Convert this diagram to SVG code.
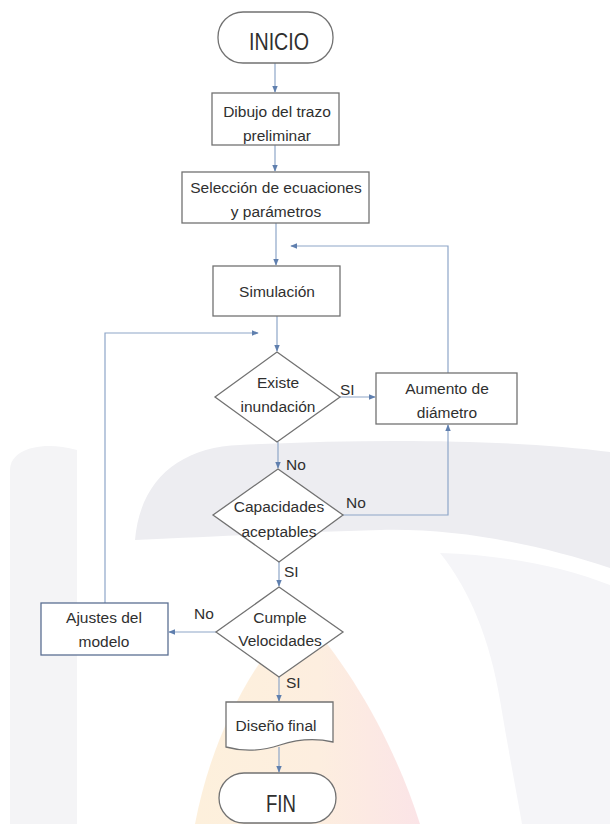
<svg xmlns="http://www.w3.org/2000/svg" width="610" height="824" viewBox="0 0 610 824">
  <defs>
    <style>
      .shape { fill: #ffffff; stroke: #727272; stroke-width: 1.3; }
      .shape-blue { fill: #ffffff; stroke: #5b6f92; stroke-width: 1.3; }
      .link { fill: none; stroke: #8ea6c8; stroke-width: 1.2; }
      .txt { font-family: "Liberation Sans", Arial, sans-serif; font-size: 15.5px; fill: #2f2f2f; text-anchor: middle; }
      .lbl { font-family: "Liberation Sans", Arial, sans-serif; font-size: 15.5px; fill: #2f2f2f; }
      .big { font-family: "Liberation Sans", Arial, sans-serif; font-size: 24px; fill: #2f2f2f; text-anchor: middle; }
    </style>
    <marker id="arrow" viewBox="0 0 10 10" refX="9" refY="5" markerWidth="6" markerHeight="6" orient="auto-start-reverse">
      <path d="M0,1 L10,5 L0,9 Z" fill="#5f7fae"/>
    </marker>
    <linearGradient id="flame" x1="0" y1="0" x2="1" y2="0">
      <stop offset="0" stop-color="#fdf0dc"/>
      <stop offset="0.55" stop-color="#fdeedf"/>
      <stop offset="1" stop-color="#fbe4e7"/>
    </linearGradient>
  </defs>

  <!-- page background with faint emblem -->
  <rect x="0" y="0" width="610" height="824" fill="#ffffff"/>
  <g id="emblem">
    <path d="M10,824 V470 C10,450 40,440 77,450 V824 Z" fill="#f4f4f6"/>
    <path d="M135,540 C140,480 180,447 240,445 C380,438 520,440 610,452 V568 C540,545 460,528 380,530 C300,532 230,536 135,540 Z" fill="#ededf1"/>
    <path d="M440,553 C470,590 490,640 500,700 C510,760 518,800 522,824 H610 V585 C560,565 500,555 440,553 Z" fill="#f5f5f8"/>
    <path d="M195,824 C210,745 245,670 300,612 C350,665 395,745 420,824 Z" fill="url(#flame)"/>
  </g>

  <!-- connectors -->
  <g id="connectors">
    <path class="link" d="M275,63 V92" marker-end="url(#arrow)"/>
    <path class="link" d="M275,145 V171" marker-end="url(#arrow)"/>
    <path class="link" d="M276,223 V265" marker-end="url(#arrow)"/>
    <path class="link" d="M277,316 V351" marker-end="url(#arrow)"/>
    <path class="link" d="M340,397 H375" marker-end="url(#arrow)"/>
    <path class="link" d="M448,373 V246 H291" marker-end="url(#arrow)"/>
    <path class="link" d="M278,442 V468" marker-end="url(#arrow)"/>
    <path class="link" d="M343,515 H448 V425" marker-end="url(#arrow)"/>
    <path class="link" d="M279,562 V586" marker-end="url(#arrow)"/>
    <path class="link" d="M216,632 H169" marker-end="url(#arrow)"/>
    <path class="link" d="M105,603 V333 H258" marker-end="url(#arrow)"/>
    <path class="link" d="M279,677 V701" marker-end="url(#arrow)"/>
    <path class="link" d="M279,747 V772" marker-end="url(#arrow)"/>
  </g>

  <!-- edge labels -->
  <g id="edge-labels">
    <text class="lbl" x="340" y="395">SI</text>
    <text class="lbl" x="286" y="470">No</text>
    <text class="lbl" x="346" y="508">No</text>
    <text class="lbl" x="284" y="577">SI</text>
    <text class="lbl" x="194" y="619">No</text>
    <text class="lbl" x="286" y="688">SI</text>
  </g>

  <g id="inicio">
    <rect class="shape" x="218" y="12" width="115" height="51" rx="25" ry="25"/>
    <text class="big" x="279" y="50" textLength="60" lengthAdjust="spacingAndGlyphs">INICIO</text>
  </g>

  <g id="dibujo">
    <rect class="shape" x="212" y="93" width="127" height="52"/>
    <text class="txt" x="277" y="117">Dibujo del trazo</text>
    <text class="txt" x="277" y="141">preliminar</text>
  </g>

  <g id="seleccion">
    <rect class="shape" x="182" y="172" width="187" height="51"/>
    <text class="txt" x="276" y="193">Selección de ecuaciones</text>
    <text class="txt" x="276" y="217">y parámetros</text>
  </g>

  <g id="simulacion">
    <rect class="shape" x="213" y="266" width="127" height="50"/>
    <text class="txt" x="277" y="297">Simulación</text>
  </g>

  <g id="inundacion">
    <polygon class="shape" points="277,352 340,397 277,442 215,397"/>
    <text class="txt" x="278" y="388">Existe</text>
    <text class="txt" x="278" y="412">inundación</text>
  </g>

  <g id="aumento">
    <rect class="shape" x="376" y="373" width="141" height="51"/>
    <text class="txt" x="447" y="394">Aumento de</text>
    <text class="txt" x="447" y="418">diámetro</text>
  </g>

  <g id="capacidades">
    <polygon class="shape" points="278,469 343,515 279,562 213,515"/>
    <text class="txt" x="279" y="512">Capacidades</text>
    <text class="txt" x="279" y="537">aceptables</text>
  </g>

  <g id="velocidades">
    <polygon class="shape" points="279,587 343,632 279,677 216,632"/>
    <text class="txt" x="280" y="623">Cumple</text>
    <text class="txt" x="280" y="646">Velocidades</text>
  </g>

  <g id="ajustes">
    <rect class="shape-blue" x="41" y="603" width="127" height="52"/>
    <text class="txt" x="104" y="623">Ajustes del</text>
    <text class="txt" x="104" y="647">modelo</text>
  </g>

  <g id="diseno">
    <path class="shape" d="M226,702 H333 V742 C312,737 295,740 280,745 C262,751 244,752 226,747 Z"/>
    <text class="txt" x="276" y="731">Diseño final</text>
  </g>

  <g id="fin">
    <rect class="shape" x="219" y="773" width="117" height="50" rx="25" ry="25"/>
    <text class="big" x="281" y="812" textLength="30" lengthAdjust="spacingAndGlyphs">FIN</text>
  </g>
</svg>
